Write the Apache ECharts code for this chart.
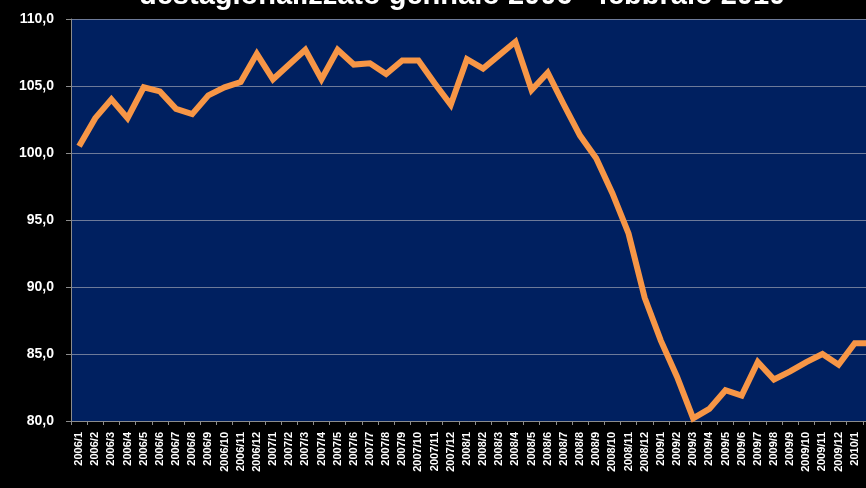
<!DOCTYPE html>
<html>
<head>
<meta charset="utf-8">
<script src="https://cdn.jsdelivr.net/npm/echarts@6/dist/echarts.min.js"></script>
<style>
html,body{margin:0;padding:0;background:#000;}
#main{width:866px;height:488px;}
</style>
</head>
<body>
<div id="main"></div>
<script>
var titleText = "destagionalizzato gennaio 2006 - febbraio 2010";

var months = [
	"2006/1","2006/2","2006/3","2006/4","2006/5","2006/6","2006/7","2006/8","2006/9","2006/10","2006/11","2006/12",
	"2007/1","2007/2","2007/3","2007/4","2007/5","2007/6","2007/7","2007/8","2007/9","2007/10","2007/11","2007/12",
	"2008/1","2008/2","2008/3","2008/4","2008/5","2008/6","2008/7","2008/8","2008/9","2008/10","2008/11","2008/12",
	"2009/1","2009/2","2009/3","2009/4","2009/5","2009/6","2009/7","2009/8","2009/9","2009/10","2009/11","2009/12",
	"2010/1","2010/2"
];

var indexValues = [
	100.5,102.6,104.0,102.6,104.9,104.6,103.3,102.9,104.3,104.9,105.3,107.4,
	105.5,106.6,107.7,105.5,107.7,106.6,106.7,105.9,106.9,106.9,105.2,103.6,
	107.0,106.3,107.3,108.3,104.7,106.0,103.6,101.3,99.6,97.0,94.0,89.2,
	86.0,83.3,80.2,80.9,82.3,81.9,84.4,83.1,83.7,84.4,85.0,84.2,
	85.8,85.8
];

var yMin = 80, yMax = 110, yStep = 5;

var option = {
	backgroundColor: "#000",
	animation: false,
	title: {
		text: titleText,
		left: 134,
		top: -24,
		textStyle: {
			color: "#fff",
			fontFamily: "Liberation Sans",
			fontWeight: "bold",
			fontSize: 29
		}
	},
	grid: {
		left: 71,
		top: 19,
		bottom: 67,
		right: -13,
		outerBoundsMode: "none",
		containLabel: false,
		show: true,
		backgroundColor: "#002060",
		borderWidth: 0
	},
	xAxis: {
		type: "category",
		data: months,
		boundaryGap: true,
		axisLine: { lineStyle: { color: "#8c8c8c", width: 1 } },
		axisTick: { show: true, length: 4, lineStyle: { color: "#8c8c8c" } },
		axisLabel: {
			interval: 0,
			rotate: 90,
			color: "#fff",
			fontFamily: "Liberation Sans",
			fontWeight: "bold",
			fontSize: 11,
			margin: 11
		},
		splitLine: { show: false }
	},
	yAxis: {
		type: "value",
		min: yMin,
		max: yMax,
		interval: yStep,
		axisLine: { show: true, lineStyle: { color: "#8c8c8c", width: 1 } },
		axisTick: { show: true, length: 5, lineStyle: { color: "#8c8c8c" } },
		axisLabel: {
			color: "#fff",
			fontFamily: "Liberation Sans",
			fontWeight: "bold",
			fontSize: 14,
			margin: 17,
			formatter: function(v){
				return v.toFixed(1).replace(".", ",");
			}
		},
		splitLine: { show: true, lineStyle: { color: "#6d7a99", width: 1 } }
	},
	series: [{
		type: "line",
		data: indexValues,
		symbol: "none",
		lineStyle: { color: "#f79646", width: 6, join: "miter" },
		itemStyle: { color: "#f79646" }
	}]
};

var myChart = echarts.init(document.getElementById("main"));
myChart.setOption(option);
</script>
</body>
</html>
